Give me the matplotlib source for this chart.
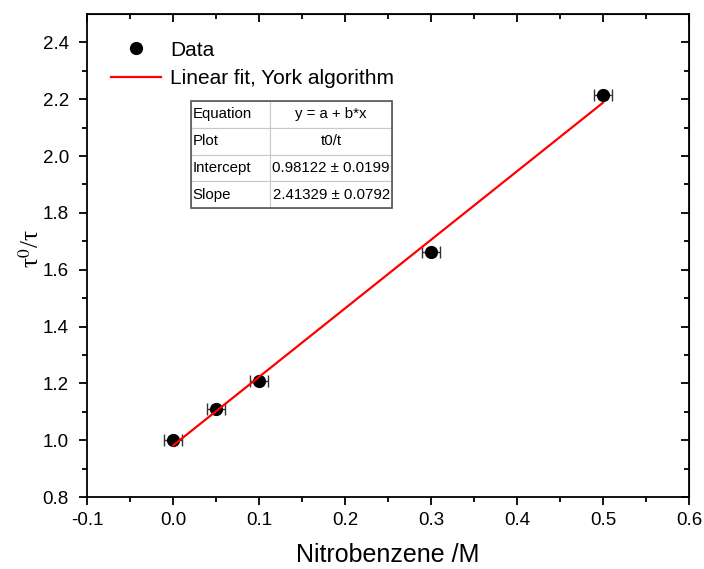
import numpy as np
from matplotlib import pyplot as plt

plt.rcParams['font.family'] = ['Liberation Sans', 'DejaVu Sans']

# data
conc = np.array([0.0, 0.05, 0.1, 0.3, 0.5])
ratio = np.array([1.0, 1.11, 1.208, 1.661, 2.215])
conc_err = np.array([0.01, 0.01, 0.01, 0.01, 0.01])

intercept = 0.98122
slope = 2.41329
fit_x = np.array([0.0, 0.5])

table_rows = [['Equation', 'y = a + b*x'],
              ['Plot', 't0/t'],
              ['Intercept', '0.98122 \u00b1 0.0199'],
              ['Slope', '2.41329 \u00b1 0.0792']]

fig = plt.figure(figsize=(7.04, 5.69), dpi=100)
ax = fig.add_axes([0.1236, 0.1265, 0.8551, 0.8489])

ax.errorbar(conc, ratio, xerr=conc_err, fmt='none', ecolor='#333333',
            elinewidth=1, capsize=4, capthick=1, zorder=2)
pts = ax.plot(conc, ratio, 'o', color='black', markersize=8.5, zorder=3,
              label='Data')[0]
fit = ax.plot(fit_x, intercept + slope*fit_x, '-', color='red', linewidth=1.6,
              zorder=4, label='Linear fit, York algorithm')[0]

ax.set_xlim(-0.1, 0.6)
ax.set_ylim(0.8, 2.5)
ax.set_xticks(np.arange(-0.1, 0.61, 0.1))
ax.set_xticks(np.arange(-0.05, 0.6, 0.1), minor=True)
ax.set_yticks(np.arange(0.8, 2.41, 0.2))
ax.set_yticks(np.arange(0.9, 2.5, 0.2), minor=True)
ax.set_xticklabels(['%.1f' % v for v in np.arange(-0.1, 0.61, 0.1)])
ax.set_yticklabels(['%.1f' % v for v in np.arange(0.8, 2.41, 0.2)])

for s in ax.spines.values():
    s.set_linewidth(1.3)
ax.tick_params(which='both', direction='out', width=1.3, labelsize=13.5,
               top=False, right=False)
ax.tick_params(which='major', length=6, pad=5)
ax.tick_params(axis='y', which='major', pad=7)
ax.tick_params(which='minor', length=3.5)
# mirrored inward ticks on top and right
ax2 = ax.secondary_xaxis('top')
ax2.set_xticks(ax.get_xticks())
ax2.set_xticks(ax.get_xticks(minor=True), minor=True)
ax2.tick_params(which='both', direction='in', width=1.3, labeltop=False)
ax2.tick_params(which='major', length=6)
ax2.tick_params(which='minor', length=3.5)
ax3 = ax.secondary_yaxis('right')
ax3.set_yticks(ax.get_yticks())
ax3.set_yticks(ax.get_yticks(minor=True), minor=True)
ax3.tick_params(which='both', direction='in', width=1.3, labelright=False)
ax3.tick_params(which='major', length=6)
ax3.tick_params(which='minor', length=3.5)

ax.set_xlabel('Nitrobenzene /M', fontsize=18, labelpad=10)
ax.set_ylabel('\u03c4$^0$/\u03c4', fontsize=18,
              family='Liberation Serif', math_fontfamily='stix')
ax.yaxis.set_label_coords(-0.072, 0.515)

ax.legend(handles=[pts, fit], loc='upper left', bbox_to_anchor=(0.015, 0.975),
          frameon=False, fontsize=15, handlelength=2.4, handletextpad=0.45,
          labelspacing=0.45, borderaxespad=0.3)

tab = ax.table(cellText=table_rows, colWidths=[0.393, 0.607],
               bbox=[0.173, 0.598, 0.334, 0.222], cellLoc='center')
tab.auto_set_font_size(False)
tab.set_fontsize(10.8)
for (r, c), cell in tab.get_celld().items():
    cell.set_edgecolor('#c8c8c8')
    cell.set_linewidth(0.8)
    if c == 0:
        cell.set_text_props(ha='left')
        cell.PAD = 0.02
tab.set_zorder(5)
# darker outer frame of the table
ax.add_patch(plt.Rectangle((0.173, 0.598), 0.334, 0.222, transform=ax.transAxes,
                           fill=False, edgecolor='#555555', linewidth=1.2,
                           zorder=6))

plt.savefig('out.png', dpi=100)
